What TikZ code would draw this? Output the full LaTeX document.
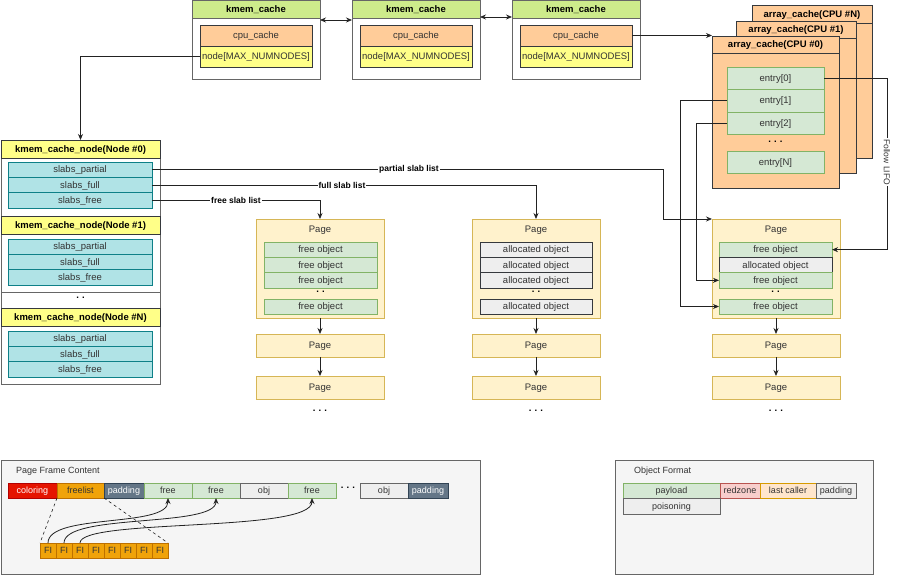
\documentclass[tikz,border=0pt]{standalone}
\usepackage{fontspec}
\setmainfont{Liberation Sans}
\usetikzlibrary{calc,arrows.meta}
\definecolor{hdrgreen}{HTML}{CDEB8B}
\definecolor{cpuorange}{HTML}{FFCC99}
\definecolor{nodeyel}{HTML}{FFFF88}
\definecolor{dk}{HTML}{36393D}
\definecolor{slabcyan}{HTML}{B0E3E6}
\definecolor{slabborder}{HTML}{0E8088}
\definecolor{pagefill}{HTML}{FFF2CC}
\definecolor{pageborder}{HTML}{D6B656}
\definecolor{freefill}{HTML}{D5E8D4}
\definecolor{freeborder}{HTML}{82B366}
\definecolor{allocfill}{HTML}{EEEEEE}
\definecolor{panelfill}{HTML}{F5F5F5}
\definecolor{panelborder}{HTML}{666666}
\definecolor{colred}{HTML}{E51400}
\definecolor{colredb}{HTML}{B20000}
\definecolor{flfill}{HTML}{F0A30A}
\definecolor{flborder}{HTML}{BD7000}
\definecolor{padslate}{HTML}{647687}
\definecolor{padborder}{HTML}{314354}
\definecolor{rzfill}{HTML}{F8CECC}
\definecolor{rzborder}{HTML}{B85450}
\definecolor{lcfill}{HTML}{FFE6CC}
\definecolor{lcborder}{HTML}{D79B00}
\definecolor{txt}{HTML}{333333}
\definecolor{edge}{HTML}{222222}
\tikzset{
  fn/.style={font=\fontsize{9.5}{11}\selectfont},
  fb/.style={font=\fontsize{9.5}{11}\selectfont\bfseries},
  base/.style={inner sep=0pt, outer sep=0pt, anchor=north west, fn, text=txt, line width=0.8pt, text height=7.4pt, text depth=1.2pt},
  sz/.style 2 args={minimum width=#1pt, minimum height=#2pt},
  container/.style={base, draw=panelborder, fill=white},
  hdrg/.style={base, draw=panelborder, fill=hdrgreen, fb, text=black},
  hdry/.style={base, draw=dk, fill=nodeyel, fb, text=black},
  cpu/.style={base, draw=dk, fill=cpuorange},
  nodey/.style={base, draw=dk, fill=nodeyel},
  acache/.style={base, draw=dk, fill=cpuorange},
  acachehdr/.style={base, draw=dk, fill=cpuorange, fb, text=black},
  entry/.style={base, draw=freeborder, fill=freefill},
  slab/.style={base, draw=slabborder, fill=slabcyan},
  page/.style={base, draw=pageborder, fill=pagefill},
  freeo/.style={base, draw=freeborder, fill=freefill},
  alloco/.style={base, draw=dk, fill=allocfill},
  panel/.style={base, draw=panelborder, fill=panelfill},
  colorcell/.style={base, draw=colredb, fill=colred, text=white, font=\fontsize{9}{11}\selectfont},
  flcell/.style={base, draw=flborder, fill=flfill, text=txt, font=\fontsize{9}{11}\selectfont},
  padcell/.style={base, draw=padborder, fill=padslate, text=white, font=\fontsize{9}{11}\selectfont},
  freecell/.style={base, draw=freeborder, fill=freefill, font=\fontsize{9}{11}\selectfont},
  objcell/.style={base, draw=panelborder, fill=allocfill, font=\fontsize{9}{11}\selectfont},
  rzcell/.style={base, draw=rzborder, fill=rzfill, font=\fontsize{9}{11}\selectfont},
  lccell/.style={base, draw=lcborder, fill=lcfill, font=\fontsize{9}{11}\selectfont},
  txtc/.style={inner sep=0pt, fn, text=txt},
  dotsc/.style={inner sep=0pt, fb, text=black},
  ttl/.style={inner sep=0pt, anchor=west, font=\fontsize{9}{11}\selectfont, text=txt},
  elbl/.style={inner sep=1pt, fill=white, font=\fontsize{8.5}{10}\selectfont\bfseries, text=black},
  arr/.style={draw=edge, line width=0.8pt, -{Stealth[length=6pt,width=5pt]}},
  arrb/.style={draw=edge, line width=0.8pt, {Stealth[length=6pt,width=5pt]}-{Stealth[length=6pt,width=5pt]}},
  ln/.style={draw=edge, line width=0.8pt},
}
\begin{document}
\begin{tikzpicture}[x=1pt,y=-1pt]
\useasboundingbox (0,0) rectangle (898,575);
\fill[white] (0,0) rectangle (898,575);

% kmem_cache boxes
\node[container, sz={128}{79}] (k1) at (192,0) {};
\node[hdrg, sz={128}{18}] (k1h) at (192,0) {kmem\_cache};
\node[cpu, sz={112}{21}] (k1c) at (200,25) {cpu\_cache};
\node[nodey, sz={112}{21}] (k1n) at (200,46) {node[MAX\_NUMNODES]};

\node[container, sz={128}{79}] (k2) at (352,0) {};
\node[hdrg, sz={128}{18}] (k2h) at (352,0) {kmem\_cache};
\node[cpu, sz={112}{21}] (k2c) at (360,25) {cpu\_cache};
\node[nodey, sz={112}{21}] (k2n) at (360,46) {node[MAX\_NUMNODES]};

\node[container, sz={128}{79}] (k3) at (512,0) {};
\node[hdrg, sz={128}{18}] (k3h) at (512,0) {kmem\_cache};
\node[cpu, sz={112}{21}] (k3c) at (520,25) {cpu\_cache};
\node[nodey, sz={112}{21}] (k3n) at (520,46) {node[MAX\_NUMNODES]};

% array caches
\node[acache, sz={120}{153}] (aN) at (752,5) {};
\node[acachehdr, sz={120}{18}] (aNh) at (752,5) {array\_cache(CPU \#N)};
\node[acache, sz={120}{152}] (a1) at (736,21) {};
\node[acachehdr, sz={120}{17}] (a1h) at (736,21) {array\_cache(CPU \#1)};
\node[acache, sz={127}{152}] (a0) at (712,36) {};
\node[acachehdr, sz={127}{17}] (a0h) at (712,36) {array\_cache(CPU \#0)};
\node[entry, sz={97}{22.5}] (e0) at (727,67) {entry[0]};
\node[entry, sz={97}{22.5}] (e1) at (727,89.5) {entry[1]};
\node[entry, sz={97}{22.5}] (e2) at (727,112) {entry[2]};
\node[dotsc] (edots) at (775.5,142) {.\,\,.\,\,.};
\node[entry, sz={97}{22}] (eN) at (727,151) {entry[N]};

% kmem_cache_node
\node[container, sz={159}{76}] (n0) at (1,140) {};
\node[hdry, sz={159}{18}] (n0h) at (1,140) {kmem\_cache\_node(Node \#0)};
\node[slab, sz={144}{15.33}] (n0p) at (8,162) {slabs\_partial};
\node[slab, sz={144}{15.33}] (n0f) at (8,177.33) {slabs\_full};
\node[slab, sz={144}{15.33}] (n0r) at (8,192.67) {slabs\_free};

\node[container, sz={159}{76}] (n1) at (1,216) {};
\node[hdry, sz={159}{18}] (n1h) at (1,216) {kmem\_cache\_node(Node \#1)};
\node[slab, sz={144}{15.33}] (n1p) at (8,239) {slabs\_partial};
\node[slab, sz={144}{15.33}] (n1f) at (8,254.33) {slabs\_full};
\node[slab, sz={144}{15.33}] (n1r) at (8,269.67) {slabs\_free};

\node[container, sz={159}{16}] (nd) at (1,292) {};
\node[dotsc] (nddots) at (80.5,298) {.\,\,.};

\node[container, sz={159}{76}] (nN) at (1,308) {};
\node[hdry, sz={159}{18}] (nNh) at (1,308) {kmem\_cache\_node(Node \#N)};
\node[slab, sz={144}{15.33}] (nNp) at (8,331) {slabs\_partial};
\node[slab, sz={144}{15.33}] (nNf) at (8,346.33) {slabs\_full};
\node[slab, sz={144}{15.33}] (nNr) at (8,361.67) {slabs\_free};

% left page column
\node[page, sz={128}{99}] (lp) at (256,219) {};
\node[txtc] (lpt) at (320,230.5) {Page};
\node[freeo, sz={113}{15.33}] (lo1) at (264,242) {free object};
\node[freeo, sz={113}{15.33}] (lo2) at (264,257.33) {free object};
\node[freeo, sz={113}{15.33}] (lo3) at (264,272.67) {free object};
\node[dotsc] (lod) at (320.5,292) {.\,\,.};
\node[freeo, sz={113}{15}] (lo4) at (264,299) {free object};
\node[page, sz={128}{23}] (lp2) at (256,334) {Page};
\node[page, sz={128}{23}] (lp3) at (256,376) {Page};
\node[dotsc] (lpd) at (320,411) {.\,\,.\,\,.};

% middle page column
\node[page, sz={128}{99}] (mp) at (472,219) {};
\node[txtc] (mpt) at (536,230.5) {Page};
\node[alloco, sz={112}{15.33}] (mo1) at (480,242) {allocated object};
\node[alloco, sz={112}{15.33}] (mo2) at (480,257.33) {allocated object};
\node[alloco, sz={112}{15.33}] (mo3) at (480,272.67) {allocated object};
\node[dotsc] (mod) at (536,292) {.\,\,.};
\node[alloco, sz={112}{15}] (mo4) at (480,299) {allocated object};
\node[page, sz={128}{23}] (mp2) at (472,334) {Page};
\node[page, sz={128}{23}] (mp3) at (472,376) {Page};
\node[dotsc] (mpd) at (536,411) {.\,\,.\,\,.};

% right page column
\node[page, sz={128}{99}] (rp) at (712,219) {};
\node[txtc] (rpt) at (776,230.5) {Page};
\node[freeo, sz={113}{15.33}] (rf1) at (719,242) {free object};
\node[alloco, sz={113}{15.33}] (ra1) at (719,257.33) {allocated object};
\node[freeo, sz={113}{15.33}] (rf2) at (719,272.67) {free object};
\node[dotsc] (rod) at (775.5,292) {.\,\,.};
\node[freeo, sz={113}{15}] (rf3) at (719,299) {free object};
\node[page, sz={128}{23}] (rp2) at (712,334) {Page};
\node[page, sz={128}{23}] (rp3) at (712,376) {Page};
\node[dotsc] (rpd) at (776,411) {.\,\,.\,\,.};

% page frame content panel
\node[panel, sz={479}{114}] (pf) at (1,460) {};
\node[ttl] (pft) at (16,471) {Page Frame Content};
\node[colorcell, sz={49}{15}] (pcol) at (8,483) {coloring};
\node[flcell, sz={47}{15}] (pfl) at (57,483) {freelist};
\node[padcell, sz={40}{15}] (ppad) at (104,483) {padding};
\node[freecell, sz={48}{15}] (pfr1) at (144,483) {free};
\node[freecell, sz={48}{15}] (pfr2) at (192,483) {free};
\node[objcell, sz={48}{15}] (pobj1) at (240,483) {obj};
\node[freecell, sz={48}{15}] (pfr3) at (288,483) {free};
\node[dotsc] (pdots) at (348,488) {.\,\,.\,\,.};
\node[objcell, sz={48}{15}] (pobj2) at (360,483) {obj};
\node[padcell, sz={40}{15}] (ppad2) at (408,483) {padding};
\foreach \i in {1,...,8} {
  \node[flcell, sz={16}{15}] (fi\i) at ({40+16*(\i-1)},543) {FI};
}

% object format panel
\node[panel, sz={258}{114}] (of) at (615,460) {};
\node[ttl] (oft) at (634,471) {Object Format};
\node[freecell, sz={97}{15}] (opay) at (623,483) {payload};
\node[rzcell, sz={40}{15}] (orz) at (720,483) {redzone};
\node[lccell, sz={56}{15}] (olc) at (760,483) {last caller};
\node[objcell, sz={40}{15}] (opad) at (816,483) {padding};
\node[objcell, sz={97}{16}] (opois) at (623,498) {poisoning};

% connectors
\draw[arrb] ($(k1.north east)+(0,20)$) -- ($(k2.north west)+(0,20)$);
\draw[arrb] ($(k2.north east)+(0,17)$) -- ($(k3.north west)+(0,17)$);
\draw[arr] (k3c.east) -- (k3c.east -| a0.west);
\draw[arr] (k1n.west) -| (n0h.north);

\draw[arr] (n0p.east) -| ($(rp.north west)+(-49,0)$) -- (rp.north west);
\draw[arr] (n0f.east) -| (mp.north);
\draw[arr] (n0r.east) -| (lp.north);
\node[elbl] (lblp) at (409,169.67) {partial slab list};
\node[elbl] (lblf) at (342,185) {full slab list};
\node[elbl] (lblr) at (236,200.33) {free slab list};

\draw[arr] (e0.east) -- ++(63,0) |- (rf1.east);
\node[inner sep=1pt, fill=white, rotate=-90, font=\fontsize{8.5}{10}\selectfont, text=txt] (lifo) at (887,162) {Follow LIFO};
\draw[arr] (e1.west) -- ++(-47,0) |- (rf3.west);
\draw[arr] (e2.west) -- ++(-31,0) |- (rf2.west);

\draw[arr] (lp.south) -- (lp2.north);
\draw[arr] (lp2.south) -- (lp3.north);
\draw[arr] (mp.south) -- (mp2.north);
\draw[arr] (mp2.south) -- (mp3.north);
\draw[arr] (rp.south) -- (rp2.north);
\draw[arr] (rp2.south) -- (rp3.north);

\draw[ln, dashed, line width=0.6pt] (pfl.south west) -- (fi1.north west);
\draw[ln, dashed, line width=0.6pt] (pfl.south east) -- (fi8.north east);
\draw[arr] (fi1.north) .. controls +(0,-30) and +(0,30) .. (pfr1.south);
\draw[arr] (fi2.north) .. controls +(0,-30) and +(0,30) .. (pfr2.south);
\draw[arr] (fi3.north) .. controls +(0,-25) and +(0,35) .. (pfr3.south);
\end{tikzpicture}
\end{document}
